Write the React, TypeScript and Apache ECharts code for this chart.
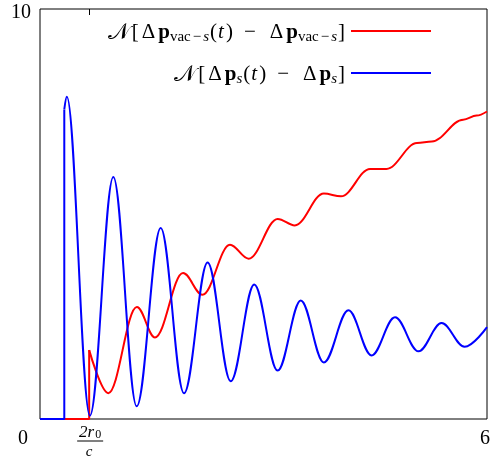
import React, { useEffect, useRef } from 'react';
import * as echarts from 'echarts';

// x: time (0..6), y: norm (0..10)
const blueStepT = [0, 0.326, 0.326];
const blueStepV = [0, 0, 7.55];
const blueT = [0.326, 0.36, 0.67, 0.984, 1.298, 1.62, 1.933, 2.25, 2.56, 2.876, 3.19, 3.5, 3.81, 4.14, 4.45, 4.765, 5.08, 5.39, 5.7, 6.0];
const blueV = [7.55, 7.86, 0.08, 5.9, 0.31, 4.66, 0.63, 3.82, 0.92, 3.28, 1.18, 2.89, 1.38, 2.65, 1.55, 2.48, 1.65, 2.34, 1.76, 2.24];

const redStepT = [0, 0.66, 0.66];
const redStepV = [0, 0, 1.68];
const redT = [0.66, 0.917, 1.3, 1.544, 1.92, 2.18, 2.55, 2.8, 3.19, 3.42, 3.81, 4.04, 4.43, 4.65, 5.06, 5.26, 5.68, 5.86, 6.0];
const redV = [1.68, 0.63, 2.73, 1.99, 3.56, 3.03, 4.25, 3.91, 4.88, 4.72, 5.5, 5.43, 6.1, 6.1, 6.73, 6.77, 7.3, 7.4, 7.5];

const xMin = 0;
const xMax = 6;
const yMin = 0;
const yMax = 10;
const xTickValues = [0, 0.66, 6];
const xTickLabels = ['0', '2r0/c', '6'];
const yTickValues = [10];
const yTickLabels = ['10'];
const xAxisName = 'T';

const RED = '#ff0000';
const BLUE = '#0000ff';
const SERIF = '"Liberation Serif", "DejaVu Serif", serif';

const pairs = (t: number[], v: number[]) => t.map((x, i) => [x, v[i]]);

export default function App() {
  const ref = useRef<HTMLDivElement>(null);
  useEffect(() => {
    if (!ref.current) return;
    const chart = echarts.init(ref.current, null, { renderer: 'svg' });
    const lineBase = {
      type: 'line' as const,
      showSymbol: false,
      symbol: 'none',
      silent: true,
      clip: false,
    };
    chart.setOption({
      animation: false,
      grid: {
        left: 40,
        top: 9,
        width: 447,
        height: 410,
        containLabel: false,
        outerBoundsMode: 'none',
        show: true,
        borderColor: '#000',
        borderWidth: 1,
        backgroundColor: 'transparent',
      },
      xAxis: [
        {
          type: 'value',
          min: xMin,
          max: xMax,
          axisLine: { show: false },
          splitLine: { show: false },
          axisLabel: { show: false },
          axisTick: { show: true, inside: true, length: 6, customValues: [xTickValues[1]], lineStyle: { color: '#000' } },
        },
        {
          type: 'value',
          position: 'top',
          min: xMin,
          max: xMax,
          axisLine: { show: false },
          splitLine: { show: false },
          axisLabel: { show: false },
          axisTick: { show: true, inside: true, length: 6, customValues: [xTickValues[1]], lineStyle: { color: '#000' } },
        },
      ],
      yAxis: {
        type: 'value',
        min: yMin,
        max: yMax,
        axisLine: { show: false },
        splitLine: { show: false },
        axisLabel: { show: false },
        axisTick: { show: false },
      },
      series: [
        { ...lineBase, name: 'redStep', data: pairs(redStepT, redStepV), lineStyle: { color: RED, width: 2 } },
        { ...lineBase, name: 'red', data: pairs(redT, redV), smooth: 0.363, smoothMonotone: 'x', lineStyle: { color: RED, width: 2 } },
        { ...lineBase, name: 'blueStep', data: pairs(blueStepT, blueStepV), lineStyle: { color: BLUE, width: 2 } },
        { ...lineBase, name: 'blue', data: pairs(blueT, blueV), smooth: 0.363, smoothMonotone: 'x', lineStyle: { color: BLUE, width: 2 } },
      ],
    });

    const px = (v: number) => chart.convertToPixel({ xAxisIndex: 0 }, v) as number;
    const py = (v: number) => chart.convertToPixel({ yAxisIndex: 0 }, v) as number;

    const labelY = py(0) + 18;
    const fracX = px(xTickValues[1]);
    const txt = (x: number, y: number, text: string, extra: any = {}) => ({
      type: 'text',
      x,
      y,
      silent: true,
      style: {
        text,
        fill: '#000',
        fontFamily: SERIF,
        fontSize: 20,
        align: 'center',
        verticalAlign: 'middle',
        textAlign: 'center',
        textVerticalAlign: 'middle',
        ...extra,
      },
    });

    const richLegend = {
      cal: { fontFamily: '"DejaVu Serif", "DejaVu Sans", serif', fontSize: 23, padding: [0, 2, 0, 0] },
      r: { fontFamily: SERIF, fontSize: 21 },
      d: { fontFamily: SERIF, fontSize: 21, padding: [0, 3, 0, 3] },
      b: { fontFamily: SERIF, fontWeight: 'bold', fontSize: 21 },
      i: { fontFamily: SERIF, fontStyle: 'italic', fontSize: 21, padding: [0, 2, 0, 1] },
      m: { fontFamily: SERIF, fontSize: 21, padding: [0, 11, 0, 11] },
      sub: { fontFamily: SERIF, fontSize: 15, padding: [10, 0, 0, 0] },
      subm: { fontFamily: SERIF, fontSize: 15, padding: [10, 2, 0, 2] },
      subi: { fontFamily: SERIF, fontStyle: 'italic', fontSize: 15, padding: [10, 1, 0, 0] },
    };
    const legend1 =
      '{cal|𝒩}{r|[}{d|Δ}{b|p}{sub|vac}{subm|−}{subi|s}{r|(}{i|t}{r|)}{m|−}{d|Δ}{b|p}{sub|vac}{subm|−}{subi|s}{r|]}';
    const legend2 = '{cal|𝒩}{r|[}{d|Δ}{b|p}{subi|s}{r|(}{i|t}{r|)}{m|−}{d|Δ}{b|p}{subi|s}{r|]}';

    const legendTextRight = 345;
    const legendLineX0 = 351;
    const legendLineX1 = 431;
    const legendY = [31, 73];

    chart.setOption({
      graphic: [
        // x tick labels
        txt(px(xTickValues[0]) - 17, labelY, xTickLabels[0]),
        txt(px(xTickValues[2]) - 2, labelY, xTickLabels[2]),
        // fraction 2r0/c
        {
          type: 'text',
          x: fracX + 1,
          y: labelY - 6,
          silent: true,
          style: {
            text: '{i|2r}{s|0}',
            align: 'center',
            verticalAlign: 'middle',
            textAlign: 'center',
            textVerticalAlign: 'middle',
            fill: '#000',
            rich: {
              i: { fontFamily: SERIF, fontStyle: 'italic', fontSize: 17 },
              s: { fontFamily: SERIF, fontSize: 12, lineHeight: 9, padding: [6, 0, 0, 1] },
            },
          },
        },
        {
          type: 'line',
          silent: true,
          shape: { x1: fracX - 12, y1: labelY + 4, x2: fracX + 14, y2: labelY + 4 },
          style: { stroke: '#000', lineWidth: 1 },
        },
        txt(fracX, labelY + 13.5, 'c', { fontStyle: 'italic', fontSize: 15 }),
        // y tick label
        txt(px(0) - 9, py(yTickValues[0]) + 2, yTickLabels[0], { align: 'right', textAlign: 'right' }),
        // x axis name (mostly cut by the bottom edge, as in the original)
        txt(264, 468, xAxisName, { fontStyle: 'italic', fontSize: 20 }),
        // legend
        {
          type: 'text',
          x: legendTextRight,
          y: legendY[0],
          silent: true,
          style: { text: legend1, rich: richLegend, align: 'right', verticalAlign: 'middle', textAlign: 'right', textVerticalAlign: 'middle', fill: '#000' },
        },
        {
          type: 'line',
          silent: true,
          shape: { x1: legendLineX0, y1: legendY[0], x2: legendLineX1, y2: legendY[0] },
          style: { stroke: RED, lineWidth: 2 },
        },
        {
          type: 'text',
          x: legendTextRight,
          y: legendY[1],
          silent: true,
          style: { text: legend2, rich: richLegend, align: 'right', verticalAlign: 'middle', textAlign: 'right', textVerticalAlign: 'middle', fill: '#000' },
        },
        {
          type: 'line',
          silent: true,
          shape: { x1: legendLineX0, y1: legendY[1], x2: legendLineX1, y2: legendY[1] },
          style: { stroke: BLUE, lineWidth: 2 },
        },
      ],
    });
    return () => chart.dispose();
  }, []);
  return <div ref={ref} style={{ position: 'fixed', left: 0, top: 0, width: 491, height: 459 }} />;
}
